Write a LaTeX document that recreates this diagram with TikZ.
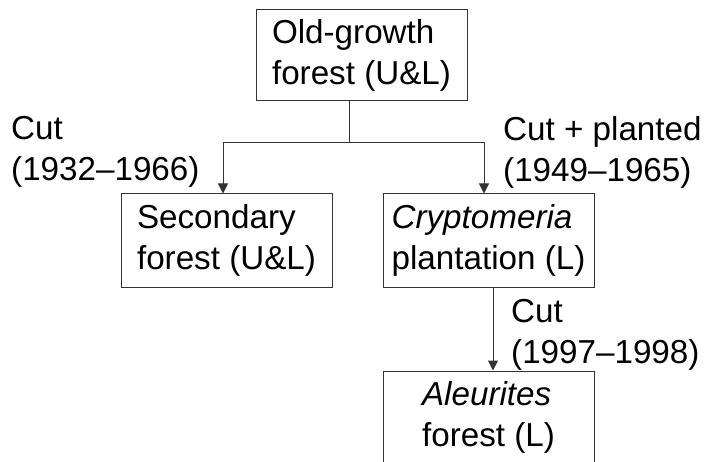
\documentclass[tikz,border=0pt]{standalone}
\usepackage{fontspec}
\setmainfont{Liberation Sans}
\usetikzlibrary{arrows.meta,positioning,calc}

\begin{document}
\begin{tikzpicture}[x=1pt,y=-1pt,
  box/.style={draw=black!80, line width=1pt, align=left, minimum width=211pt, minimum height=93pt, inner sep=0pt, font=\fontsize{33.2}{40.5}\selectfont},
  lbl/.style={align=left, inner sep=0pt, anchor=north west, font=\fontsize{33.2}{41}\selectfont},
  link/.style={draw=black!80, line width=1pt},
  arr/.style={link, -{Triangle[length=10pt,width=10pt]}}]
\useasboundingbox (0,0) rectangle (706,462);
\clip (0,0) rectangle (706,462);
% Stands
\node[box, minimum height=91pt] (old) at (361.5,55.5) {Old-growth\\forest (U\&L)};
\node[box] (second) at (226.5,240.5) {Secondary\\forest (U\&L)};
\node[box] (crypt) at (488.5,240.5) {\textit{Cryptomeria}\\plantation (L)};
\node[box] (aleur) at (488.5,417.5) {\textit{Aleurites}\\forest (L)};
% Split below the old-growth forest
\coordinate (split) at (349,143);
\draw[link] (old.south -| split) -- (split);
\draw[arr] (split) -| ([xshift=-3.5pt]second.north);
\draw[arr] (split) -| ([xshift=-4.5pt]crypt.north);
\draw[arr] ([xshift=4.5pt]crypt.south) -- ([xshift=4.5pt]aleur.north);
% Disturbance labels
\node[lbl] (cutA) at (11,116) {Cut\\(1932--1966)};
\node[lbl] (cutB) at (503,116) {Cut + planted\\(1949--1965)};
\node[lbl] (cutC) at (511,299) {Cut\\(1997--1998)};
\end{tikzpicture}
\end{document}
